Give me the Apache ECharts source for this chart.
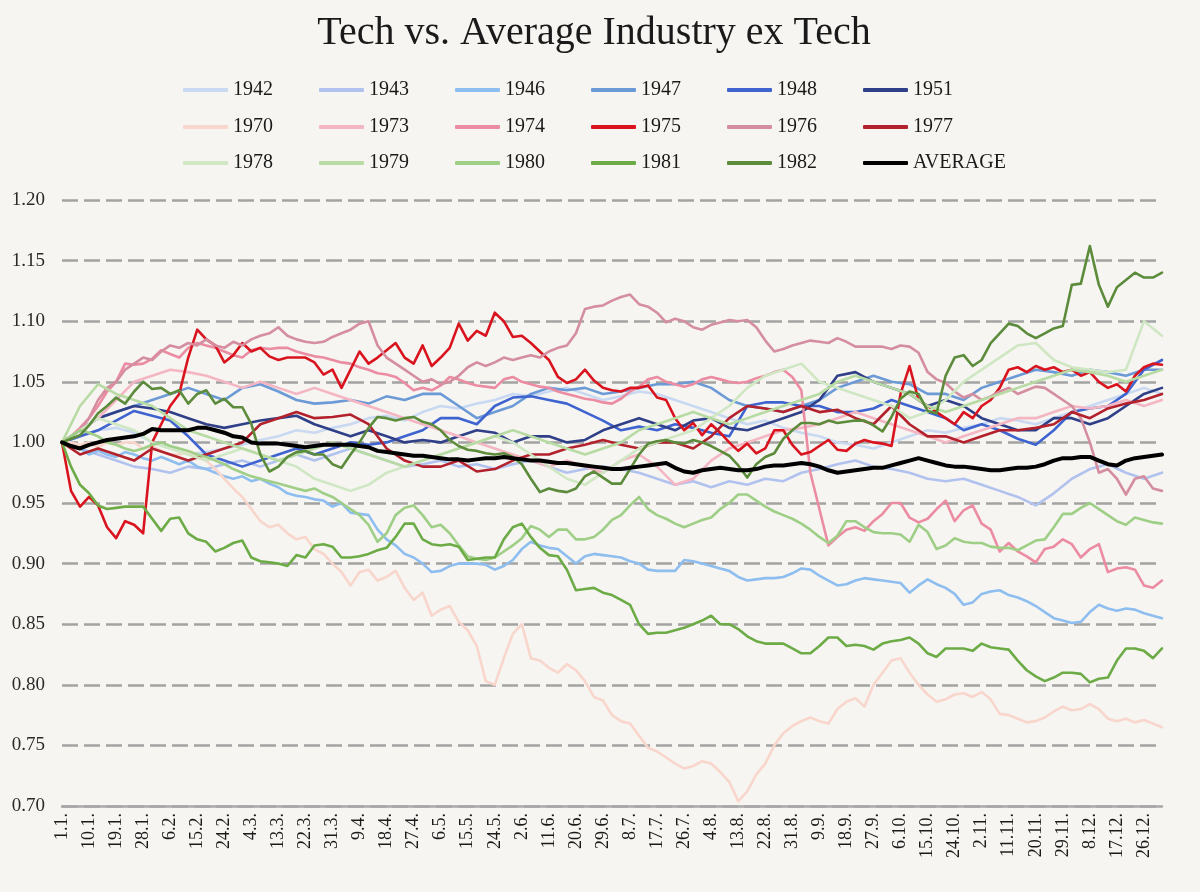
<!DOCTYPE html>
<html><head><meta charset="utf-8">
<script src="https://cdn.jsdelivr.net/npm/echarts@6/dist/echarts.min.js"></script>
<style>html,body{margin:0;padding:0;background:#f6f5f1}#c{width:1200px;height:892px}</style>
</head><body><div id="c"></div>
<script>
const tickLabels = ['1.1.','10.1.','19.1.','28.1.','6.2.','15.2.','24.2.','4.3.','13.3.','22.3.','31.3.','9.4.','18.4.','27.4.','6.5.','15.5.','24.5.','2.6.','11.6.','20.6.','29.6.','8.7.','17.7.','26.7.','4.8.','13.8.','22.8.','31.8.','9.9.','18.9.','27.9.','6.10.','15.10.','24.10.','2.11.','11.11.','20.11.','29.11.','8.12.','17.12.','26.12.'];
// readings are taken every STEP days from 1.1. (fine = 3 days, coarse = 6 days)
const STEP_FINE = 3;
const STEP_COARSE = 6;

const y1942 = [1.0,1.005,1.01,1.012,1.008,1.0,0.995,0.99,0.992,0.995,
 0.998,1.002,1.005,1.01,1.008,1.012,1.015,1.02,1.022,1.018,
 1.025,1.03,1.028,1.032,1.035,1.04,1.038,1.042,1.045,1.04,
 1.035,1.038,1.042,1.04,1.035,1.03,1.025,1.02,1.015,1.018,
 1.012,1.008,1.005,1.0,0.998,0.995,1.0,1.005,1.01,1.008,
 1.012,1.015,1.02,1.018,1.015,1.02,1.025,1.03,1.035,1.04,
 1.045,1.04];
const y1943 = [1.0,0.995,0.99,0.985,0.98,0.978,0.975,0.98,0.978,0.982,
 0.985,0.98,0.985,0.99,0.985,0.99,0.995,0.99,0.985,0.98,
 0.982,0.985,0.98,0.982,0.978,0.982,0.985,0.98,0.975,0.978,
 0.98,0.978,0.975,0.97,0.965,0.968,0.963,0.968,0.965,0.97,
 0.968,0.975,0.978,0.982,0.985,0.98,0.978,0.975,0.97,0.968,
 0.97,0.965,0.96,0.955,0.948,0.958,0.97,0.978,0.982,0.975,
 0.97,0.975];
const y1946 = [1.0,0.997,0.995,0.99,0.993,0.99,0.988,0.992,0.99,0.987,
 0.985,0.988,0.985,0.982,0.985,0.98,0.978,0.975,0.972,0.97,
 0.972,0.968,0.97,0.966,0.963,0.958,0.956,0.955,0.953,0.952,
 0.947,0.95,0.942,0.941,0.94,0.928,0.92,0.915,0.908,0.905,
 0.90,0.893,0.894,0.898,0.90,0.90,0.90,0.899,0.895,0.898,
 0.903,0.912,0.918,0.915,0.913,0.912,0.906,0.90,0.906,0.908,
 0.907,0.906,0.905,0.902,0.90,0.895,0.894,0.894,0.894,0.903,
 0.902,0.90,0.898,0.896,0.894,0.889,0.886,0.887,0.888,0.888,
 0.889,0.892,0.896,0.895,0.89,0.886,0.882,0.883,0.886,0.888,
 0.887,0.886,0.885,0.884,0.876,0.882,0.887,0.883,0.88,0.875,
 0.866,0.868,0.875,0.877,0.878,0.874,0.872,0.869,0.865,0.86,
 0.855,0.853,0.851,0.852,0.86,0.866,0.863,0.861,0.863,0.862,
 0.859,0.857,0.855];
const y1947 = [1.0,1.01,1.02,1.025,1.03,1.035,1.04,1.045,1.04,1.035,
 1.045,1.048,1.042,1.035,1.032,1.033,1.035,1.032,1.038,1.035,
 1.04,1.04,1.03,1.02,1.025,1.03,1.04,1.045,1.043,1.045,
 1.04,1.042,1.045,1.048,1.048,1.05,1.045,1.035,1.03,1.028,
 1.025,1.03,1.035,1.045,1.05,1.055,1.05,1.048,1.04,1.04,
 1.035,1.045,1.05,1.055,1.06,1.058,1.055,1.06,1.058,1.055,
 1.06,1.06];
const y1948 = [1.0,1.005,1.01,1.018,1.026,1.022,1.018,1.005,0.99,0.985,
 0.98,0.985,0.99,0.995,0.99,0.995,1.0,0.998,1.0,1.005,
 1.01,1.02,1.02,1.015,1.03,1.037,1.038,1.035,1.032,1.025,
 1.018,1.01,1.013,1.01,1.015,1.012,1.008,1.005,1.03,1.033,
 1.033,1.03,1.03,1.025,1.025,1.028,1.035,1.03,1.025,1.02,
 1.01,1.015,1.01,1.003,0.998,1.01,1.025,1.028,1.03,1.04,
 1.06,1.068];
const y1951 = [1.0,1.01,1.02,1.025,1.03,1.028,1.025,1.02,1.015,1.012,
 1.015,1.018,1.02,1.022,1.015,1.01,1.005,1.01,1.005,1.0,
 1.002,1.0,1.005,1.01,1.008,1.0,1.005,1.005,1.0,1.002,
 1.01,1.015,1.02,1.015,1.01,1.018,1.02,1.012,1.01,1.015,
 1.02,1.025,1.035,1.055,1.058,1.05,1.045,1.04,1.03,1.035,
 1.03,1.02,1.015,1.01,1.01,1.02,1.02,1.015,1.02,1.03,
 1.04,1.045];
const y1970 = [1.0,1.0,0.998,1.0,0.996,1.0,0.998,1.0,1.0,0.995,
 0.997,0.993,0.99,0.99,0.992,0.988,0.985,0.978,0.97,0.962,
 0.955,0.945,0.935,0.93,0.932,0.925,0.92,0.922,0.912,0.908,
 0.90,0.893,0.882,0.893,0.895,0.886,0.889,0.894,0.88,0.87,
 0.876,0.857,0.862,0.865,0.852,0.845,0.832,0.803,0.80,0.822,
 0.842,0.85,0.822,0.82,0.814,0.81,0.817,0.812,0.803,0.79,
 0.787,0.775,0.77,0.768,0.758,0.748,0.745,0.74,0.735,0.731,
 0.733,0.737,0.735,0.728,0.72,0.704,0.712,0.726,0.735,0.75,
 0.76,0.766,0.77,0.773,0.77,0.768,0.78,0.786,0.789,0.782,
 0.8,0.81,0.82,0.822,0.81,0.8,0.792,0.786,0.788,0.792,
 0.793,0.79,0.794,0.788,0.776,0.775,0.772,0.769,0.77,0.773,
 0.778,0.782,0.779,0.78,0.784,0.78,0.772,0.77,0.772,0.769,
 0.771,0.768,0.765];
const y1973 = [1.0,1.01,1.02,1.035,1.05,1.055,1.06,1.058,1.055,1.05,
 1.045,1.05,1.045,1.04,1.045,1.04,1.035,1.03,1.025,1.02,
 1.015,1.01,1.005,1.0,0.995,0.99,0.985,0.98,0.985,0.98,
 0.975,0.985,0.99,0.98,0.965,0.97,0.985,0.995,1.0,1.005,
 1.01,1.012,1.015,1.02,1.025,1.02,1.015,1.01,1.005,1.0,
 1.005,1.01,1.015,1.02,1.02,1.025,1.03,1.028,1.03,1.035,
 1.03,1.035];
const y1974 = [1.0,1.005,1.012,1.02,1.03,1.042,1.05,1.065,1.064,1.065,
 1.069,1.076,1.073,1.07,1.078,1.082,1.08,1.078,1.075,1.072,
 1.07,1.076,1.078,1.077,1.078,1.078,1.075,1.073,1.071,1.07,
 1.068,1.066,1.065,1.062,1.06,1.057,1.056,1.054,1.049,1.043,
 1.045,1.043,1.047,1.054,1.052,1.049,1.047,1.046,1.045,1.052,
 1.054,1.05,1.048,1.046,1.045,1.042,1.04,1.038,1.036,1.035,
 1.033,1.032,1.036,1.042,1.046,1.052,1.054,1.05,1.048,1.046,
 1.048,1.052,1.054,1.052,1.05,1.049,1.05,1.053,1.055,1.058,
 1.06,1.054,1.043,0.975,0.945,0.915,0.922,0.928,0.93,0.927,
 0.935,0.941,0.95,0.95,0.938,0.934,0.937,0.945,0.952,0.935,
 0.944,0.948,0.933,0.928,0.91,0.917,0.91,0.906,0.901,0.912,
 0.914,0.92,0.916,0.905,0.912,0.916,0.893,0.896,0.897,0.895,
 0.882,0.88,0.886];
const y1975 = [1.0,0.96,0.947,0.955,0.948,0.93,0.921,0.935,0.932,0.925,
 1.0,1.015,1.03,1.04,1.07,1.093,1.085,1.08,1.066,1.072,
 1.082,1.075,1.078,1.071,1.068,1.07,1.07,1.07,1.066,1.056,
 1.06,1.045,1.06,1.075,1.065,1.07,1.076,1.082,1.07,1.065,
 1.08,1.063,1.07,1.078,1.098,1.084,1.092,1.088,1.107,1.1,
 1.087,1.088,1.082,1.075,1.068,1.054,1.049,1.052,1.06,1.051,
 1.045,1.043,1.042,1.045,1.045,1.047,1.037,1.035,1.02,1.01,
 1.016,1.006,1.015,1.008,1.0,0.993,0.999,0.991,0.995,1.01,
 1.01,0.998,0.99,0.992,0.997,1.002,0.994,0.993,0.999,1.002,
 1.0,0.999,0.997,1.04,1.063,1.035,1.03,1.025,1.02,1.015,
 1.025,1.02,1.03,1.035,1.045,1.06,1.062,1.058,1.063,1.06,
 1.062,1.058,1.06,1.055,1.058,1.05,1.045,1.048,1.042,1.055,
 1.062,1.065,1.064];
const y1976 = [1.0,1.005,1.01,1.02,1.035,1.045,1.05,1.06,1.065,1.07,
 1.068,1.075,1.08,1.078,1.082,1.08,1.085,1.08,1.078,1.083,
 1.08,1.085,1.088,1.09,1.095,1.088,1.085,1.083,1.082,1.083,
 1.087,1.09,1.093,1.098,1.1,1.08,1.07,1.065,1.06,1.055,
 1.05,1.052,1.048,1.05,1.055,1.062,1.066,1.063,1.066,1.07,
 1.068,1.07,1.072,1.07,1.075,1.078,1.08,1.09,1.11,1.112,
 1.113,1.117,1.12,1.122,1.114,1.112,1.107,1.099,1.102,1.1,
 1.095,1.093,1.097,1.099,1.101,1.1,1.101,1.095,1.084,1.075,
 1.077,1.08,1.082,1.084,1.083,1.082,1.086,1.083,1.079,1.079,
 1.079,1.079,1.077,1.08,1.079,1.074,1.058,1.052,1.049,1.042,
 1.037,1.04,1.035,1.038,1.042,1.045,1.04,1.043,1.046,1.045,
 1.04,1.035,1.03,1.02,1.0,0.975,0.978,0.97,0.957,0.97,
 0.972,0.962,0.96];
const y1977 = [1.0,0.99,0.995,0.99,0.985,0.995,0.99,0.985,0.99,0.995,
 1.0,1.015,1.02,1.025,1.02,1.021,1.023,1.015,0.995,0.985,
 0.98,0.98,0.985,0.976,0.978,0.985,0.99,0.99,0.995,0.998,
 1.002,0.998,0.995,1.0,1.0,0.995,1.005,1.02,1.03,1.028,
 1.025,1.03,1.025,1.027,1.02,1.015,1.03,1.015,1.005,1.005,
 1.0,1.005,1.01,1.01,1.012,1.015,1.025,1.02,1.028,1.032,
 1.035,1.04];
const y1978 = [1.0,1.01,1.02,1.015,1.01,1.0,0.995,0.99,0.985,0.99,
 0.995,0.99,0.985,0.98,0.97,0.965,0.96,0.965,0.975,0.98,
 0.985,0.99,0.995,1.0,1.005,1.0,0.99,0.98,0.97,0.965,
 0.975,0.985,0.995,1.0,1.005,1.01,1.02,1.03,1.045,1.055,
 1.06,1.065,1.05,1.045,1.04,1.035,1.03,1.02,1.025,1.035,
 1.05,1.06,1.07,1.08,1.082,1.068,1.062,1.06,1.058,1.06,
 1.1,1.088];
const y1979 = [1.0,1.03,1.048,1.04,1.035,1.03,1.02,1.01,1.005,1.0,
 0.995,0.99,0.985,0.99,0.995,1.0,0.995,0.99,0.985,0.98,
 0.985,0.99,0.995,1.0,1.005,1.01,1.005,1.0,0.995,0.99,
 0.995,1.0,1.01,1.015,1.02,1.025,1.02,1.015,1.02,1.025,
 1.03,1.035,1.04,1.05,1.055,1.05,1.045,1.04,1.03,1.025,
 1.03,1.035,1.04,1.045,1.05,1.055,1.06,1.058,1.055,1.05,
 1.055,1.06];
const y1980 = [1.0,1.005,1.01,1.008,1.005,1.0,0.998,0.995,0.993,0.995,
 0.998,1.0,0.997,0.995,0.993,0.99,0.988,0.985,0.982,0.978,
 0.975,0.972,0.97,0.968,0.966,0.964,0.962,0.96,0.962,0.958,
 0.955,0.95,0.945,0.94,0.932,0.918,0.925,0.94,0.946,0.948,
 0.94,0.93,0.932,0.925,0.915,0.906,0.904,0.903,0.905,0.91,
 0.915,0.921,0.931,0.928,0.922,0.928,0.928,0.92,0.92,0.922,
 0.928,0.936,0.94,0.948,0.955,0.945,0.94,0.937,0.933,0.93,
 0.933,0.936,0.938,0.945,0.95,0.957,0.957,0.952,0.947,0.943,
 0.94,0.937,0.933,0.928,0.922,0.917,0.923,0.935,0.935,0.93,
 0.926,0.925,0.925,0.924,0.918,0.932,0.926,0.912,0.915,0.921,
 0.918,0.917,0.917,0.914,0.913,0.913,0.911,0.915,0.919,0.92,
 0.93,0.941,0.941,0.946,0.95,0.945,0.94,0.935,0.932,0.938,
 0.936,0.934,0.933];
const y1981 = [1.0,0.98,0.965,0.958,0.948,0.945,0.946,0.947,0.947,0.947,
 0.937,0.927,0.937,0.938,0.925,0.92,0.918,0.91,0.913,0.917,
 0.919,0.905,0.902,0.901,0.90,0.898,0.907,0.905,0.915,0.916,
 0.914,0.905,0.905,0.906,0.908,0.911,0.913,0.922,0.933,0.933,
 0.92,0.916,0.915,0.916,0.914,0.903,0.904,0.905,0.905,0.92,
 0.93,0.933,0.922,0.913,0.907,0.906,0.895,0.878,0.879,0.88,
 0.876,0.874,0.87,0.866,0.85,0.842,0.843,0.843,0.845,0.847,
 0.85,0.853,0.857,0.85,0.85,0.846,0.84,0.836,0.834,0.834,
 0.834,0.83,0.826,0.826,0.832,0.839,0.839,0.832,0.833,0.832,
 0.829,0.834,0.836,0.837,0.839,0.834,0.826,0.823,0.83,0.83,
 0.83,0.828,0.834,0.831,0.83,0.829,0.82,0.812,0.807,0.803,
 0.806,0.81,0.81,0.809,0.802,0.805,0.806,0.82,0.83,0.83,
 0.828,0.822,0.83];
const y1982 = [1.0,1.003,1.006,1.014,1.024,1.03,1.037,1.032,1.042,1.05,
 1.044,1.045,1.04,1.043,1.032,1.04,1.043,1.032,1.036,1.029,
 1.029,1.015,0.99,0.976,0.98,0.988,0.992,0.993,0.99,0.99,
 0.982,0.979,0.99,1.0,1.012,1.021,1.02,1.018,1.02,1.021,
 1.017,1.015,1.01,1.002,0.997,0.994,0.993,0.991,0.99,0.991,
 0.988,0.982,0.97,0.959,0.962,0.96,0.959,0.962,0.972,0.976,
 0.971,0.966,0.966,0.978,0.99,0.999,1.001,1.002,1.0,0.999,
 1.002,1.0,0.997,0.993,0.989,0.981,0.971,0.982,0.988,0.991,
 1.003,1.01,1.016,1.016,1.015,1.018,1.016,1.017,1.018,1.018,
 1.014,1.009,1.021,1.036,1.042,1.04,1.026,1.024,1.055,1.07,
 1.072,1.063,1.068,1.082,1.09,1.098,1.096,1.09,1.086,1.09,
 1.094,1.096,1.13,1.131,1.162,1.13,1.112,1.128,1.134,1.14,
 1.136,1.136,1.14];
const yAverage = [1.0,0.997,0.995,0.998,1.0,1.002,1.003,1.004,1.005,1.007,
 1.011,1.01,1.01,1.01,1.01,1.012,1.012,1.01,1.008,1.005,
 1.004,1.0,0.999,0.999,0.999,0.998,0.997,0.996,0.997,0.998,
 0.998,0.998,0.998,0.997,0.996,0.993,0.992,0.991,0.99,0.989,
 0.989,0.988,0.987,0.986,0.986,0.985,0.986,0.987,0.987,0.988,
 0.987,0.986,0.985,0.985,0.984,0.983,0.983,0.982,0.981,0.98,
 0.979,0.978,0.978,0.979,0.98,0.981,0.982,0.983,0.979,0.976,
 0.975,0.977,0.978,0.979,0.978,0.977,0.977,0.978,0.98,0.981,
 0.981,0.982,0.983,0.982,0.98,0.977,0.975,0.976,0.977,0.978,
 0.979,0.979,0.981,0.983,0.985,0.987,0.985,0.983,0.981,0.98,
 0.98,0.979,0.978,0.977,0.977,0.978,0.979,0.979,0.98,0.982,
 0.985,0.987,0.987,0.988,0.988,0.985,0.982,0.981,0.985,0.987,
 0.988,0.989,0.99];

const seriesNames = ['1942','1943','1946','1947','1948','1951','1970','1973','1974','1975','1976','1977','1978','1979','1980','1981','1982','AVERAGE'];
const seriesValues = [y1942,y1943,y1946,y1947,y1948,y1951,y1970,y1973,y1974,y1975,y1976,y1977,y1978,y1979,y1980,y1981,y1982,yAverage];
const seriesColors = ['#c9d9f2','#b2c2ee','#8ebeef','#6b9ad6','#3f64cf','#2f3f88','#f9d6cc','#f5b6c3','#ec8ca2','#d9141f','#d58ea0','#b3212c','#d0e7c3','#b8dba4','#9fcf87','#6cab46','#5b8b3b','#000000'];

const serif = '"Liberation Serif", "DejaVu Serif", serif';
const chart = echarts.init(document.getElementById('c'), null, {renderer: 'canvas'});

const series = seriesNames.map((name, k) => {
  const vals = seriesValues[k];
  const step = vals.length > 100 ? STEP_FINE : STEP_COARSE;
  return {
    name: name,
    type: 'line',
    symbol: 'none',
    showSymbol: false,
    animation: false,
    emphasis: {disabled: true},
    z: 2 + k,
    data: vals.map((v, i) => [i * step, v]),
    lineStyle: {color: seriesColors[k], width: name === 'AVERAGE' ? 4 : 2.6, cap: 'round', join: 'round'},
    itemStyle: {color: seriesColors[k]}
  };
});

function legendRow(names, top) {
  return {
    data: names, top: top, left: 183, orient: 'horizontal', padding: 0,
    itemWidth: 45, itemHeight: 4, itemGap: 46, icon: 'roundRect',
    selectedMode: false,
    textStyle: {fontFamily: serif, fontSize: 20, color: '#1a1a1a', padding: [0, 0, 0, 0]}
  };
}

chart.setOption({
  backgroundColor: '#f6f5f1',
  animation: false,
  title: {
    text: 'Tech vs. Average Industry ex Tech',
    left: 589, top: 8, textAlign: 'center',
    textStyle: {fontFamily: serif, fontSize: 40, fontWeight: 'normal', color: '#1a1a1a'}
  },
  legend: [
    legendRow(seriesNames.slice(0, 6), 80),
    legendRow(seriesNames.slice(6, 12), 117),
    legendRow(seriesNames.slice(12, 18), 153)
  ],
  grid: {left: 62, right: 38, top: 200, bottom: 86, containLabel: false},
  xAxis: {
    type: 'value', min: 0, max: 366, interval: 9,
    axisLine: {show: true, lineStyle: {color: '#a8a8a8', width: 2.5}},
    axisTick: {show: false},
    splitLine: {show: false},
    axisLabel: {
      rotate: 90, margin: 7, fontFamily: serif, fontSize: 18, color: '#1a1a1a',
      showMaxLabel: false,
      formatter: v => (v % 9 === 0 && tickLabels[v / 9] !== undefined) ? tickLabels[v / 9] : ''
    }
  },
  yAxis: {
    type: 'value', min: 0.70, max: 1.20, interval: 0.05,
    axisLine: {show: false}, axisTick: {show: false},
    axisLabel: {margin: 17, fontFamily: serif, fontSize: 19, color: '#2a2a2a', formatter: v => v.toFixed(2)},
    splitLine: {show: true, lineStyle: {color: '#a3a3a3', width: 2.5, type: [16, 6]}}
  },
  series: series
});
</script>
</body></html>
